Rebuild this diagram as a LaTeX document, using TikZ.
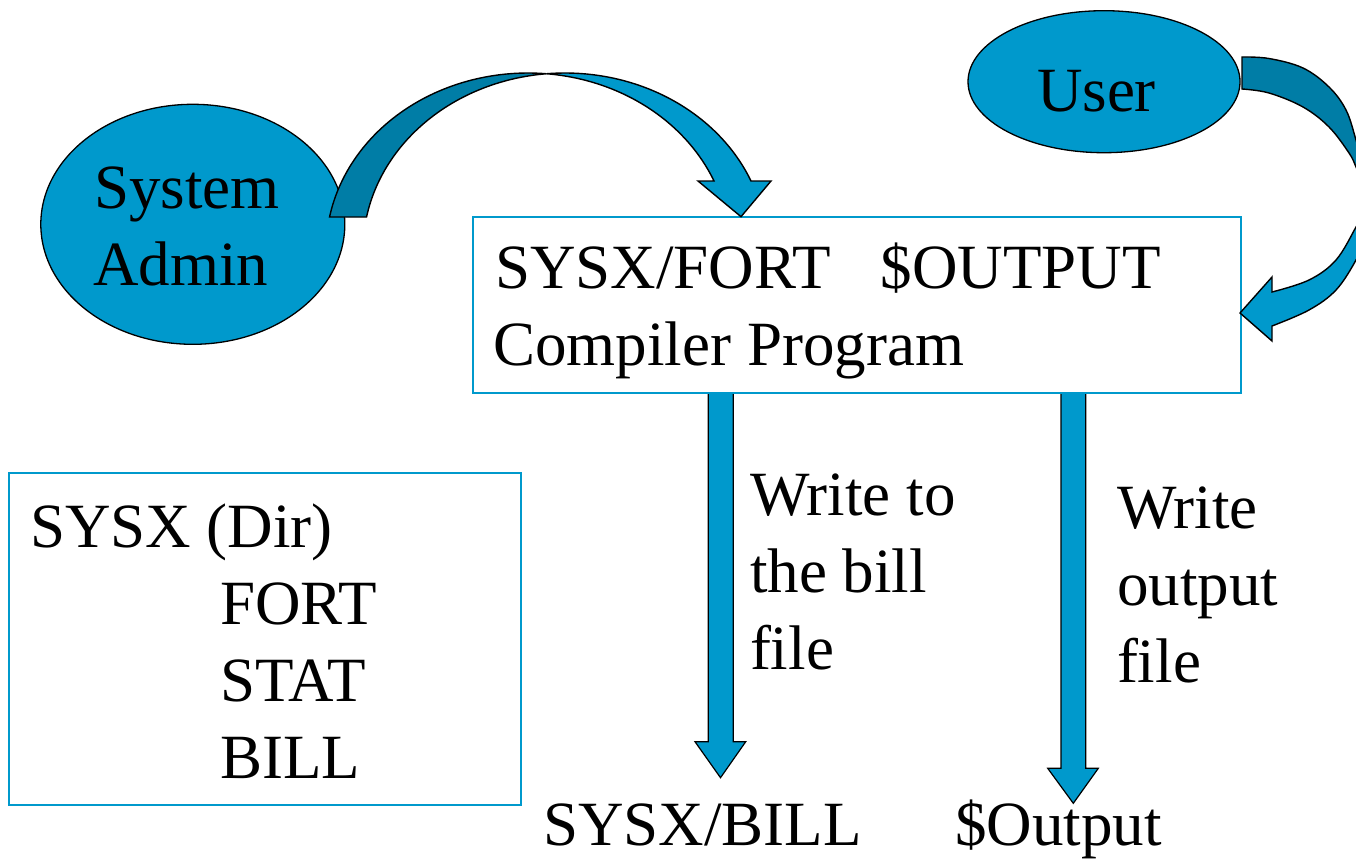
\documentclass[tikz,border=0pt]{standalone}
\usepackage{fontspec}
\setmainfont{Liberation Serif}
\usetikzlibrary{shapes.geometric}

\definecolor{flow}{RGB}{0,153,204}
\definecolor{flowdark}{RGB}{0,125,166}
\definecolor{frame}{RGB}{0,153,204}

\begin{document}
\begin{tikzpicture}[x=1pt,y=-1pt,
  every node/.style={inner sep=0pt, outer sep=0pt},
  lbl/.style={font=\fontsize{63}{77}\selectfont, anchor=base west},
  actor/.style={ellipse, draw=black, line width=1.3pt, fill=flow},
  panel/.style={draw=frame, line width=2pt, fill=white, anchor=north west},
  band/.style={draw=black, line width=1.4pt, line join=miter, fill=flow},
  bandback/.style={band, fill=flowdark},
  blockarrow/.style={draw=black, line width=1.2pt, fill=flow}]

\useasboundingbox (0,0) rectangle (1356,859);

% actors
\node[actor, minimum width=304pt, minimum height=240pt] (admin) at (192.8,224.3) {};
\node[actor, minimum width=272pt, minimum height=142pt] (user) at (1104,81.7) {};

% write arrows leaving the compiler box
\coordinate (billtip) at (720.5,777.7);
\coordinate (outtip) at (1073.3,803.3);
\filldraw[blockarrow] (708.3,392.7) -- (733.3,392.7) -- (733.3,741.7) -- (745.7,741.7)
  -- (billtip) -- (695,741.7) -- (708.3,741.7) -- cycle;
\filldraw[blockarrow] (1061,392.7) -- (1085.7,392.7) -- (1085.7,768.3) -- (1098.3,768.3)
  -- (outtip) -- (1047.7,768.3) -- (1061,768.3) -- cycle;

% boxes
\node[panel, minimum width=768pt, minimum height=176pt] (prog) at (473,216.7) {};
\node[panel, minimum width=512pt, minimum height=332pt] (dir) at (9,473) {};

% curved arrow: system admin -> compiler program
\filldraw[bandback]
  plot[domain=190.74:275.26, samples=60, variable=\t] ({528+202*cos(\t)}, {250+177*sin(\t)})
  -- plot[domain=264.74:190.74, samples=60, variable=\t] ({565+202*cos(\t)}, {250+177*sin(\t)})
  -- cycle;
\filldraw[band]
  plot[domain=275.26:337.06, samples=60, variable=\t] ({528+202*cos(\t)}, {250+177*sin(\t)})
  -- (698,181) -- (741,216.7) -- (771,181)
  -- plot[domain=337.06:264.74, samples=60, variable=\t] ({565+202*cos(\t)}, {250+177*sin(\t)})
  -- cycle;

% curved arrow: user -> compiler program (runs past the right edge)
\begin{scope}
\clip (0,0) rectangle (1356,859);
\filldraw[bandback]
  plot[smooth, tension=0.6] coordinates {(1242,57) (1269,58.5) (1303,68) (1329,87) (1346,110) (1356,140) (1364,170) (1366,199)}
  -- plot[smooth, tension=0.6] coordinates {(1366,199) (1362,182) (1356,167) (1349,153) (1329,127) (1303,107) (1269,93) (1242,89)}
  -- cycle;
\filldraw[band]
  plot[smooth, tension=0.6] coordinates {(1366,199) (1363,213) (1356,227) (1336,260) (1309,280) (1272,292)}
  -- (1272,277) -- (1240,313) -- (1272,341)
  -- plot[smooth, tension=0.6] coordinates {(1272,326) (1309,310) (1336,290) (1356,260) (1365,238) (1368,218) (1366,199)}
  -- cycle;
\end{scope}

% texts
\node[lbl] (adminA) at (94.3,208.3) {System};
\node[lbl] (adminB) at (93.3,285) {Admin};
\node[lbl] (userT) at (1037,111.7) {User};

\node[lbl] (progA) at (495,288.3) {SYSX/FORT\hspace{50pt}\$OUTPUT};
\node[lbl] (progB) at (493.3,365) {Compiler Program};

\node[lbl] (dirA) at (30,547) {SYSX (Dir)};
\node[lbl] (dirB) at (220,624) {FORT};
\node[lbl] (dirC) at (220,701) {STAT};
\node[lbl] (dirD) at (220,778) {BILL};

\node[lbl] (billA) at (750,515) {Write to};
\node[lbl] (billB) at (750,592) {the bill};
\node[lbl] (billC) at (750,669) {file};

\node[lbl] (outA) at (1117,528) {Write};
\node[lbl] (outB) at (1117,605) {output};
\node[lbl] (outC) at (1117,682) {file};

\node[lbl] (billname) at (543,845) {SYSX/BILL};
\node[lbl] (outname) at (955,845) {\$Output};
\end{tikzpicture}
\end{document}
